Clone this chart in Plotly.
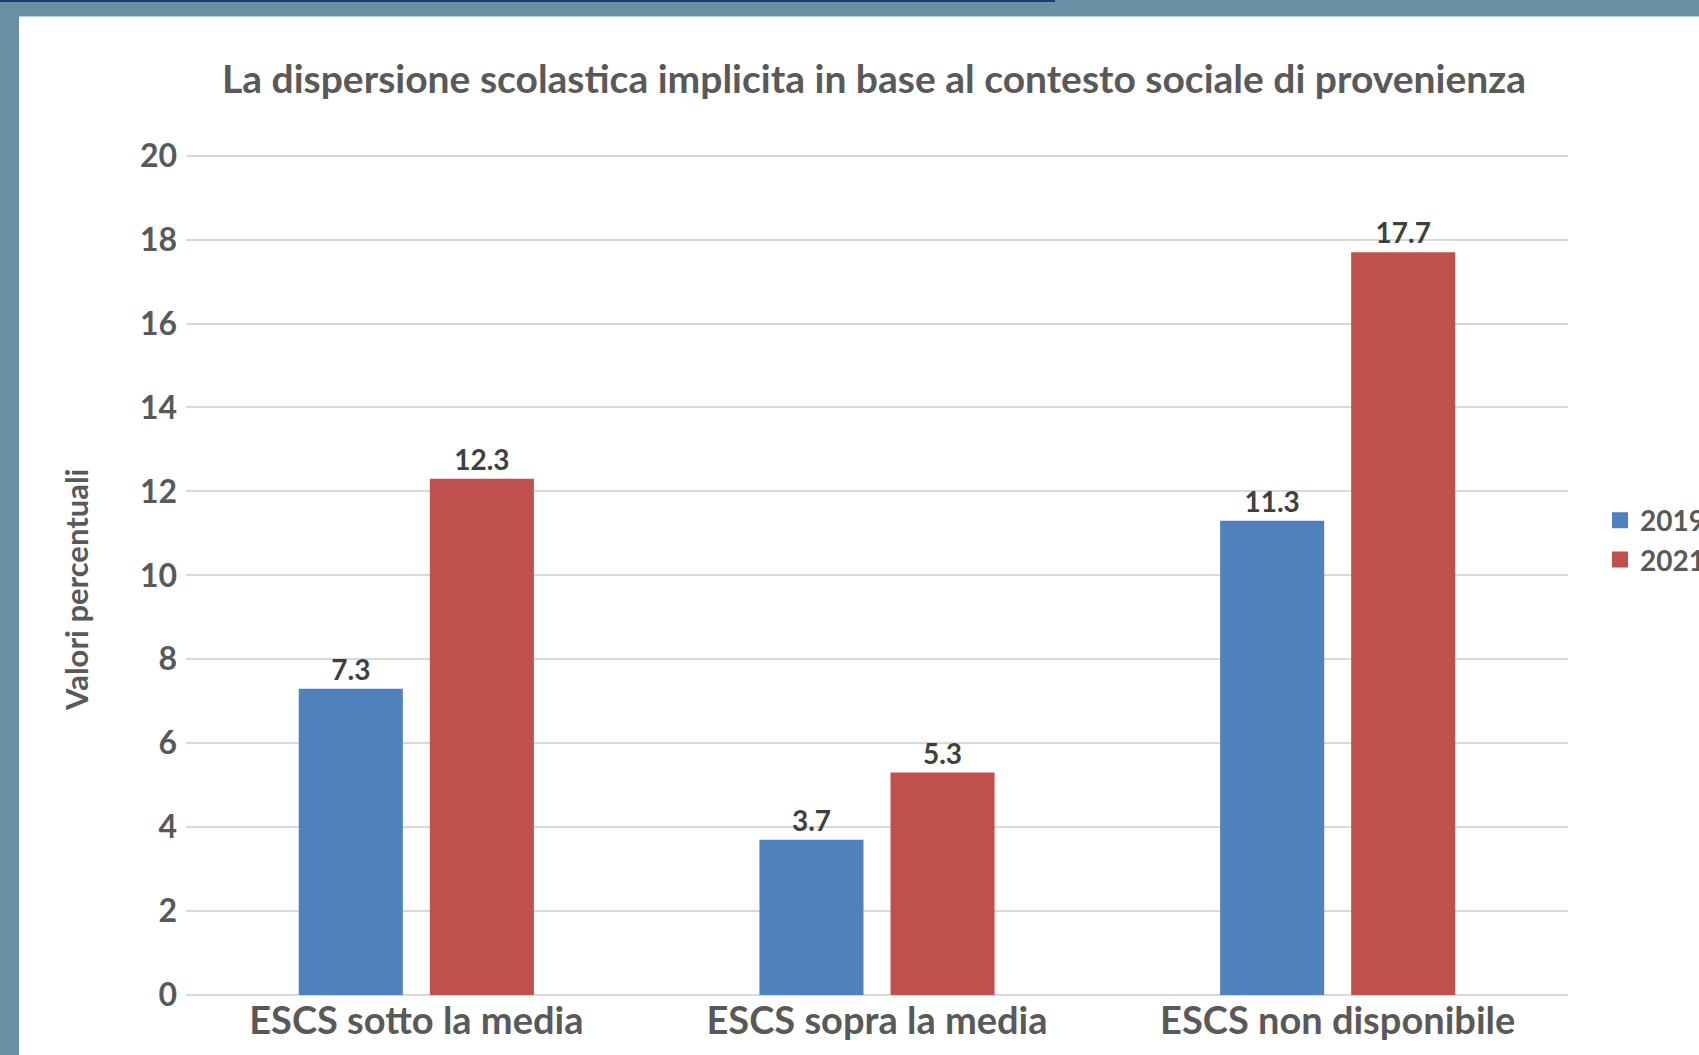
import plotly.graph_objects as go

categories = ["ESCS sotto la media", "ESCS sopra la media", "ESCS non disponibile"]
values_2019 = [7.3, 3.7, 11.3]
values_2021 = [12.3, 5.3, 17.7]
series_names = ["2019", "2021"]
series_colors = ["#4F81BD", "#C0504D"]
y_ticks = list(range(0, 21, 2))

W, H = 1699, 1055
ML, MR, MT, MB = 186, 131, 154, 60
PW, PH = W - ML - MR, H - MT - MB

def px_x(px):
    return (px - ML) / PW

def px_y(py):
    return (H - MB - py) / PH

FONT = "Lato, 'Open Sans', sans-serif"
TXT = "#595959"

fig = go.Figure()
for name, vals, col in zip(series_names, [values_2019, values_2021], series_colors):
    fig.add_trace(go.Bar(
        x=categories, y=vals, name=name, legendgroup=name, showlegend=False,
        marker=dict(color=col, line=dict(width=0)),
        text=[f"{v:.1f}" for v in vals],
        textposition="outside",
        textfont=dict(family=FONT, size=28, color="#404040", weight="bold"),
        cliponaxis=False,
    ))
# legend entries with larger square keys
for name, col in zip(series_names, series_colors):
    fig.add_trace(go.Scatter(
        x=[None], y=[None], mode="markers", name=name, legendgroup=name,
        marker=dict(symbol="square", size=16, color=col), showlegend=True,
    ))

fig.update_layout(
    width=W, height=H,
    margin=dict(l=ML, r=MR, t=MT, b=MB, autoexpand=False),
    paper_bgcolor="#6890A5",
    plot_bgcolor="rgba(0,0,0,0)",
    barmode="group",
    bargap=0.431,
    bargroupgap=0.206,
    font=dict(family=FONT, color=TXT),
    title=dict(
        text="<b>La dispersione scolastica implicita in base al contesto sociale di provenienza</b>",
        font=dict(family=FONT, size=39, color=TXT),
        xref="paper", x=px_x(874), xanchor="center",
        yref="container", y=1 - 79 / H, yanchor="middle",
    ),
    xaxis=dict(
        showgrid=False, showline=False, zeroline=False, ticks="",
        tickfont=dict(family=FONT, size=38, color=TXT, weight="bold"),
    ),
    yaxis=dict(
        range=[0, 20.04], tickvals=y_ticks,
        showgrid=True, gridcolor="#D9D9D9", gridwidth=1.5,
        zeroline=True, zerolinecolor="#D9D9D9", zerolinewidth=1.5,
        showline=False, ticks="",
        ticklabelstandoff=8,
        tickfont=dict(family=FONT, size=32, color=TXT, weight="bold"),
    ),
    legend=dict(
        orientation="v", x=px_x(1600), xanchor="left",
        y=px_y(540), yanchor="middle",
        font=dict(family=FONT, size=28, color=TXT, weight="bold"),
        bgcolor="rgba(0,0,0,0)", tracegroupgap=0, itemsizing="trace",
    ),
    showlegend=True,
)

fig.add_shape(type="rect", xref="paper", yref="paper",
              x0=px_x(19), x1=px_x(W + 20), y0=px_y(H + 20), y1=px_y(16),
              fillcolor="white", line=dict(width=0), layer="below")
fig.add_shape(type="line", xref="paper", yref="paper",
              x0=px_x(19), x1=px_x(W + 20), y0=px_y(16.5), y1=px_y(16.5),
              line=dict(color="#B8CAD4", width=1), layer="below")
fig.add_shape(type="rect", xref="paper", yref="paper",
              x0=px_x(0), x1=px_x(1055), y0=px_y(2), y1=px_y(0),
              fillcolor="#1F3C6E", line=dict(width=0), layer="below")

fig.add_annotation(
    text="<b>Valori percentuali</b>", textangle=-90,
    xref="paper", yref="paper", x=px_x(76), y=px_y(590),
    xanchor="center", yanchor="middle", showarrow=False,
    font=dict(family=FONT, size=31, color=TXT),
)

fig.write_html("out.html", config={"displayModeBar": False},
               post_script="document.body.style.margin='0px';")
